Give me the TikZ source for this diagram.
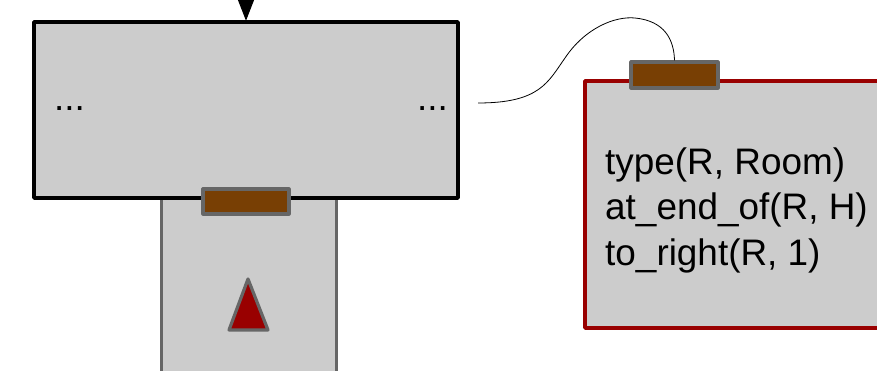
\documentclass[tikz,border=0pt]{standalone}
\usepackage{fontspec}
\setmainfont{Liberation Sans}
\usetikzlibrary{arrows.meta}
\definecolor{roomgray}{HTML}{CCCCCC}
\definecolor{edgegray}{HTML}{666666}
\definecolor{doorbrown}{HTML}{783F04}
\definecolor{darkred}{HTML}{990000}
\tikzset{
  room/.style={rectangle, fill=roomgray, inner sep=0pt, line join=round},
  door/.style={rectangle, fill=doorbrown, draw=edgegray, line width=3.2pt, inner sep=0pt, line join=round},
  lbl/.style={font=\fontsize{36.9}{45}\selectfont, inner sep=0pt, anchor=base west},
}
\begin{document}
\begin{tikzpicture}[x=1pt,y=-1pt]
\useasboundingbox (0,0) rectangle (877,371);
\clip (0,0) rectangle (877,371);
% corridor
\node[room, draw=edgegray, line width=3pt, minimum width=175pt, minimum height=250pt] (corr) at (248.5,275) {};
% main room
\node[room, draw=black, line width=3.5pt, minimum width=424pt, minimum height=176pt] (main) at (246,110) {};
\node[door, minimum width=86pt, minimum height=25pt] (door1) at (246,201.5) {};
% agent triangle
\draw[edgegray, fill=darkred, line width=3.2pt, line join=round] (248,279) -- (268,330) -- (229,330) -- cycle;
% dots
\node[lbl] (dl) at (54,111) {...};
\node[lbl] (dr) at (417,111) {...};
% incoming arrow
\coordinate (src) at (246,-60);
\draw[line width=1pt, -{Triangle[length=26pt,width=20pt]}, shorten >=-0.5pt] (src) -- (main.north);
% right room
\node[room, draw=darkred, line width=3.5pt, minimum width=335pt, minimum height=247pt] (right) at (752.5,204.5) {};
\node[door, minimum width=87pt, minimum height=26pt] (door2) at (674.5,75) {};
\node[lbl] (t1) at (605,175) {type(R, Room)};
\node[lbl] (t2) at (605,220) {at\_end\_of(R, H)};
\node[lbl] (t3) at (605,265) {to\_right(R, 1)};
% connector curve
\coordinate (cstart) at (478,103);
\draw[line width=0.8pt] (cstart) .. controls (540,103) and (548,82) .. (565,58)
  .. controls (585,28) and (615,16) .. (635,18)
  .. controls (665,21) and (674,40) .. (door2.north);
\end{tikzpicture}
\end{document}
